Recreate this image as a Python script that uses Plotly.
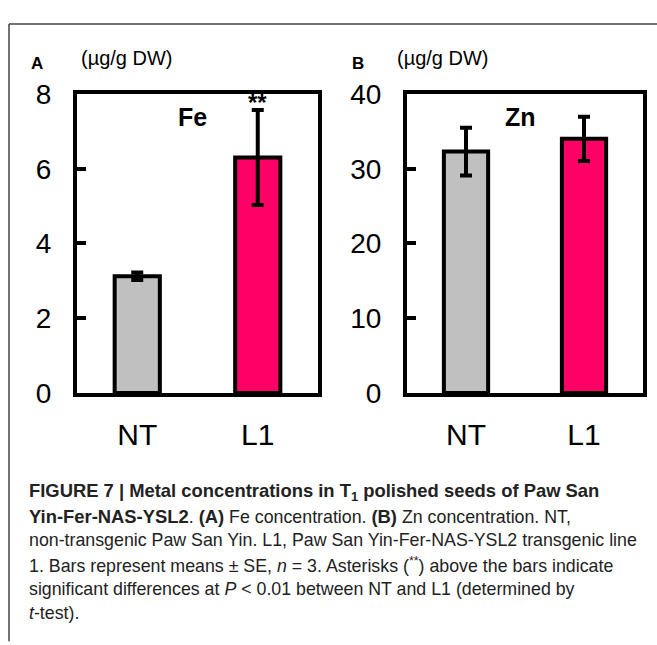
import plotly.graph_objects as go

W, H = 657, 645

categories = ["NT", "L1"]
fe_values = [3.12, 6.30]
fe_errors = [0.10, 1.27]
zn_values = [32.3, 34.0]
zn_errors = [3.2, 2.95]
bar_colors = ["#C0C0C0", "#FF0066"]
fe_ticks = [0, 2, 4, 6, 8]
zn_ticks = [0, 10, 20, 30, 40]

FONT = "Arial, Liberation Sans, sans-serif"

def px_x(p):
    return p / W

def px_y(p):
    return (H - p) / H

fig = go.Figure()

fig.add_trace(go.Bar(
    x=categories, y=fe_values, width=0.375,
    marker=dict(color=bar_colors, line=dict(color="black", width=4)),
    error_y=dict(type="data", array=fe_errors, color="black", thickness=4, width=6),
    xaxis="x", yaxis="y", showlegend=False, hoverinfo="skip",
))
fig.add_trace(go.Bar(
    x=categories, y=zn_values, width=0.375,
    marker=dict(color=bar_colors, line=dict(color="black", width=4)),
    error_y=dict(type="data", array=zn_errors, color="black", thickness=4, width=6),
    xaxis="x2", yaxis="y2", showlegend=False, hoverinfo="skip",
))

y_dom = [px_y(397), px_y(83)]

common_x = dict(
    showline=True, linecolor="black", linewidth=4, mirror=True,
    ticks="", showgrid=False, zeroline=False,
    tickfont=dict(family=FONT, size=30, color="black"),
    ticklabelstandoff=12, range=[-0.5, 1.5], fixedrange=True,
)
common_y = dict(
    showline=True, linecolor="black", linewidth=4, mirror=True,
    ticks="inside", ticklen=9, tickwidth=4, tickcolor="black",
    showgrid=False, zeroline=False,
    tickfont=dict(family=FONT, size=28, color="black"),
    ticklabelstandoff=16, fixedrange=True,
)

fig.update_layout(
    width=W, height=H,
    margin=dict(l=0, r=0, t=0, b=0),
    paper_bgcolor="white", plot_bgcolor="white",
    xaxis=dict(domain=[px_x(77), px_x(318)], anchor="y", **common_x),
    yaxis=dict(domain=y_dom, anchor="x", range=[0, 8], tickvals=fe_ticks, **common_y),
    xaxis2=dict(domain=[px_x(407), px_x(643)], anchor="y2", **common_x),
    yaxis2=dict(domain=y_dom, anchor="x2", range=[0, 40], tickvals=zn_ticks, **common_y),
)

annotations = []
# panel letters and units
for letter, lx, ux in [("A", 37, 127), ("B", 358, 443)]:
    annotations.append(dict(text=f"<b>{letter}</b>", x=px_x(lx), y=px_y(51), xref="paper", yref="paper",
                            showarrow=False, xanchor="center", yanchor="middle",
                            font=dict(family=FONT, size=17, color="black")))
    annotations.append(dict(text="(µg/g DW)", x=px_x(ux), y=px_y(45), xref="paper", yref="paper",
                            showarrow=False, xanchor="center", yanchor="middle",
                            font=dict(family=FONT, size=20, color="black")))
# element labels
annotations.append(dict(text="<b>Fe</b>", x=0.46, y=7.38, xref="x", yref="y", showarrow=False,
                        xanchor="center", yanchor="middle", font=dict(family=FONT, size=25, color="black")))
annotations.append(dict(text="<b>Zn</b>", x=0.46, y=36.9, xref="x2", yref="y2", showarrow=False,
                        xanchor="center", yanchor="middle", font=dict(family=FONT, size=25, color="black")))
annotations.append(dict(text="<b>**</b>", x=1, y=7.78, xref="x", yref="y", showarrow=False,
                        xanchor="center", yanchor="middle", font=dict(family=FONT, size=24, color="black")))

def B(s):
    return f'<span style="font-size:18.4px"><b>{s}</b></span>'

caption_lines = [
    B("FIGURE 7 | Metal concentrations in T<sub>1</sub> polished seeds of Paw San"),
    B("Yin-Fer-NAS-YSL2") + ". " + B("(A)") + " Fe concentration. " + B("(B)") + " Zn concentration. NT,",
    "non-transgenic Paw San Yin. L1, Paw San Yin-Fer-NAS-YSL2 transgenic line",
    "1. Bars represent means ± SE, <i>n</i> = 3. Asterisks (<sup>**</sup>) above the bars indicate",
    "significant differences at <i>P</i> &lt; 0.01 between NT and L1 (determined by",
    "<i>t</i>-test).",
]
caption_y = [501, 526.5, 552, 577.5, 603, 628.5]
for txt, yy in zip(caption_lines, caption_y):
    annotations.append(dict(text=txt, x=px_x(27), y=px_y(yy), xref="paper", yref="paper",
                            showarrow=False, xanchor="left", yanchor="middle", align="left",
                            font=dict(family=FONT, size=17.8, color="#222222")))

fig.update_layout(annotations=annotations)

# outer frame (top and left edges)
fig.add_shape(type="line", xref="paper", yref="paper", x0=px_x(9), x1=1.02, y0=px_y(9.5), y1=px_y(9.5),
              line=dict(color="#444444", width=1.5))
fig.add_shape(type="line", xref="paper", yref="paper", x0=px_x(9), x1=px_x(9), y0=px_y(9.5), y1=-0.02,
              line=dict(color="#444444", width=1.5))

fig.write_html("out.html", config={"displayModeBar": False},
               post_script="document.body.style.margin='0';")
